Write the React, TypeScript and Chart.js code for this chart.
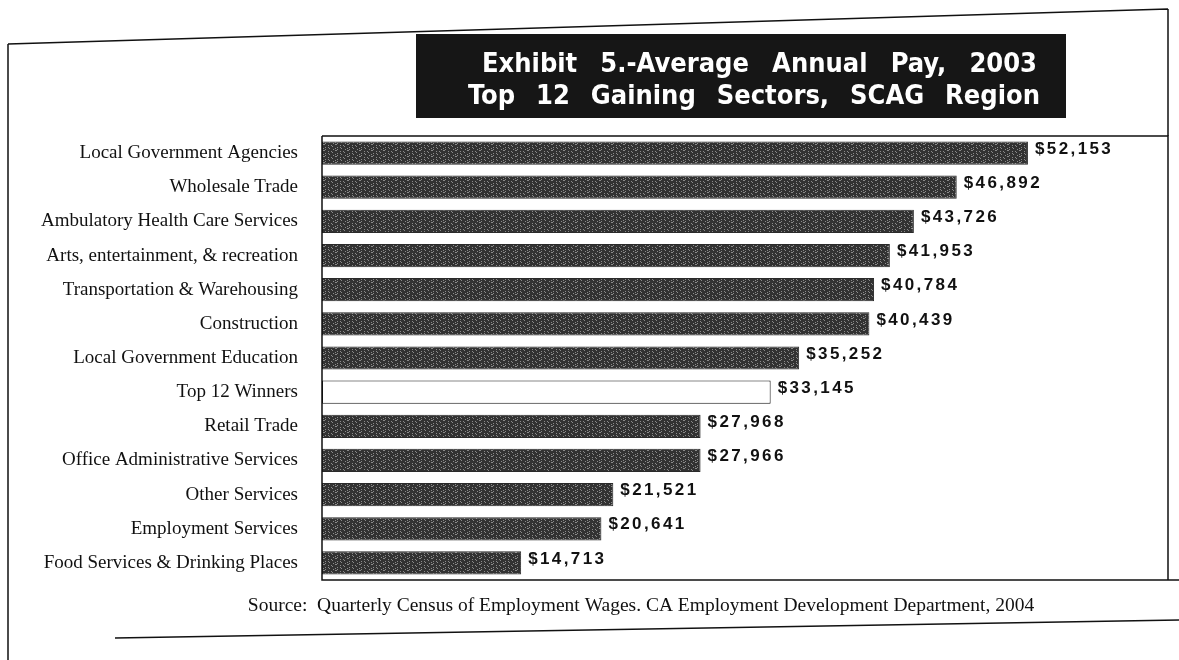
import React, { useEffect, useRef } from 'react';
import { Chart, registerables } from 'chart.js';

Chart.register(...registerables);

const categories = [
  'Local Government Agencies',
  'Wholesale Trade',
  'Ambulatory Health Care Services',
  'Arts, entertainment, & recreation',
  'Transportation & Warehousing',
  'Construction',
  'Local Government Education',
  'Top 12 Winners',
  'Retail Trade',
  'Office Administrative Services',
  'Other Services',
  'Employment Services',
  'Food Services & Drinking Places',
];

const values = [52153, 46892, 43726, 41953, 40784, 40439, 35252, 33145, 27968, 27966, 21521, 20641, 14713];

const valueLabels = ['$52,153', '$46,892', '$43,726', '$41,953', '$40,784', '$40,439', '$35,252', '$33,145', '$27,968', '$27,966', '$21,521', '$20,641', '$14,713'];

const highlightCategory = 'Top 12 Winners';

const titleLines = ['Exhibit 5.-Average Annual Pay, 2003', 'Top 12 Gaining Sectors, SCAG Region'];

const sourceText = 'Source:  Quarterly Census of Employment Wages. CA Employment Development Department, 2004';

const xMax = 62500;

function makePattern(): CanvasPattern | string {
  const c = document.createElement('canvas');
  c.width = 12;
  c.height = 6;
  const g = c.getContext('2d');
  if (!g) return '#444';
  g.fillStyle = '#323232';
  g.fillRect(0, 0, 12, 6);
  g.fillStyle = '#8a8a8a';
  for (let i = 0; i < 12; i++) {
    for (let j = 0; j < 6; j++) {
      if ((i * 7 + j * 5) % 11 === 0 || (i * 3 + j * 13) % 17 === 0) g.fillRect(i, j, 1, 1);
    }
  }
  const p = g.createPattern(c, 'repeat');
  return p || '#444';
}

function fitText(ctx: any, text: string, x: number, y: number, targetWidth: number) {
  ctx.wordSpacing = '0px';
  const w = ctx.measureText(text).width;
  const spaces = text.split(' ').length - 1;
  const extra = spaces > 0 ? Math.max(0, (targetWidth - w) / spaces) : 0;
  ctx.wordSpacing = extra.toFixed(2) + 'px';
  ctx.fillText(text, x, y);
  ctx.wordSpacing = '0px';
}

const decorPlugin = {
  id: 'decor',
  beforeDraw(chart: any) {
    const ctx = chart.ctx;
    ctx.save();
    ctx.fillStyle = '#ffffff';
    ctx.fillRect(0, 0, chart.width, chart.height);
    ctx.restore();
  },
  afterDraw(chart: any) {
    const ctx = chart.ctx;
    const a = chart.chartArea;
    ctx.save();
    ctx.strokeStyle = '#111';
    // outer frame
    ctx.lineWidth = 1.5;
    ctx.beginPath();
    ctx.moveTo(8, 44);
    ctx.lineTo(1168, 9);
    ctx.moveTo(8, 44);
    ctx.lineTo(8, 660);
    ctx.moveTo(1168, 9);
    ctx.lineTo(1168, a.top);
    ctx.moveTo(115, 638);
    ctx.lineTo(1179, 620);
    ctx.stroke();
    // plot border
    ctx.beginPath();
    ctx.moveTo(a.left, a.top);
    ctx.lineTo(a.right, a.top);
    ctx.lineTo(a.right, a.bottom);
    ctx.moveTo(a.left, a.top);
    ctx.lineTo(a.left, a.bottom);
    ctx.lineTo(1179, a.bottom);
    ctx.stroke();

    // title box
    ctx.fillStyle = '#161616';
    ctx.fillRect(416, 34, 650, 84);
    ctx.fillStyle = '#ffffff';
    ctx.font = 'bold 27px "DejaVu Sans Condensed", "DejaVu Sans", Verdana, sans-serif';
    ctx.textAlign = 'left';
    ctx.textBaseline = 'alphabetic';
    fitText(ctx, titleLines[0], 482, 72, 555);
    fitText(ctx, titleLines[1], 468, 104, 572);

    // source
    ctx.fillStyle = '#111';
    ctx.textAlign = 'center';
    ctx.textBaseline = 'middle';
    ctx.font = '19.5px "Liberation Serif", "Times New Roman", serif';
    ctx.fillText(sourceText, 641, 606);

    // value labels
    const meta = chart.getDatasetMeta(0);
    ctx.font = 'bold 17px "Liberation Sans", Arial, sans-serif';
    ctx.textAlign = 'left';
    (ctx as any).letterSpacing = '2.4px';
    meta.data.forEach((bar: any, i: number) => {
      ctx.fillText(valueLabels[i], bar.x + 7, bar.y - 4);
    });
    (ctx as any).letterSpacing = '0px';
    ctx.restore();
  },
};

export default function App() {
  const ref = useRef<HTMLCanvasElement | null>(null);
  useEffect(() => {
    document.body.style.margin = '0';
    const canvas = ref.current;
    if (!canvas) return;
    const pattern = makePattern();
    const chart = new Chart(canvas, {
      type: 'bar',
      data: {
        labels: categories,
        datasets: [
          {
            data: values,
            backgroundColor: categories.map((c) => (c === highlightCategory ? '#ffffff' : pattern)) as any,
            borderColor: categories.map((c) => (c === highlightCategory ? '#111' : '#2a2a2a')),
            borderWidth: 1,
            borderSkipped: false,
            categoryPercentage: 1,
            barPercentage: 0.68,
          },
        ],
      },
      options: {
        indexAxis: 'y',
        animation: false,
        responsive: false,
        maintainAspectRatio: false,
        layout: { padding: { top: 136, bottom: 80, left: 0, right: 11 } },
        plugins: { legend: { display: false }, tooltip: { enabled: false }, title: { display: false } },
        scales: {
          x: { min: 0, max: xMax, display: false },
          y: {
            grid: { display: false },
            border: { display: false },
            afterFit: (scale: any) => {
              scale.width = 322;
            },
            ticks: {
              color: '#111',
              padding: 16,
              font: { family: '"Liberation Serif", "Times New Roman", serif', size: 19 },
            },
          },
        },
      },
      plugins: [decorPlugin],
    });
    return () => chart.destroy();
  }, []);
  return (
    <div style={{ position: 'fixed', left: 0, top: 0, width: 1179, height: 660, background: '#fff' }}>
      <canvas ref={ref} width={1179} height={660} style={{ width: 1179, height: 660, display: 'block' }} />
    </div>
  );
}
